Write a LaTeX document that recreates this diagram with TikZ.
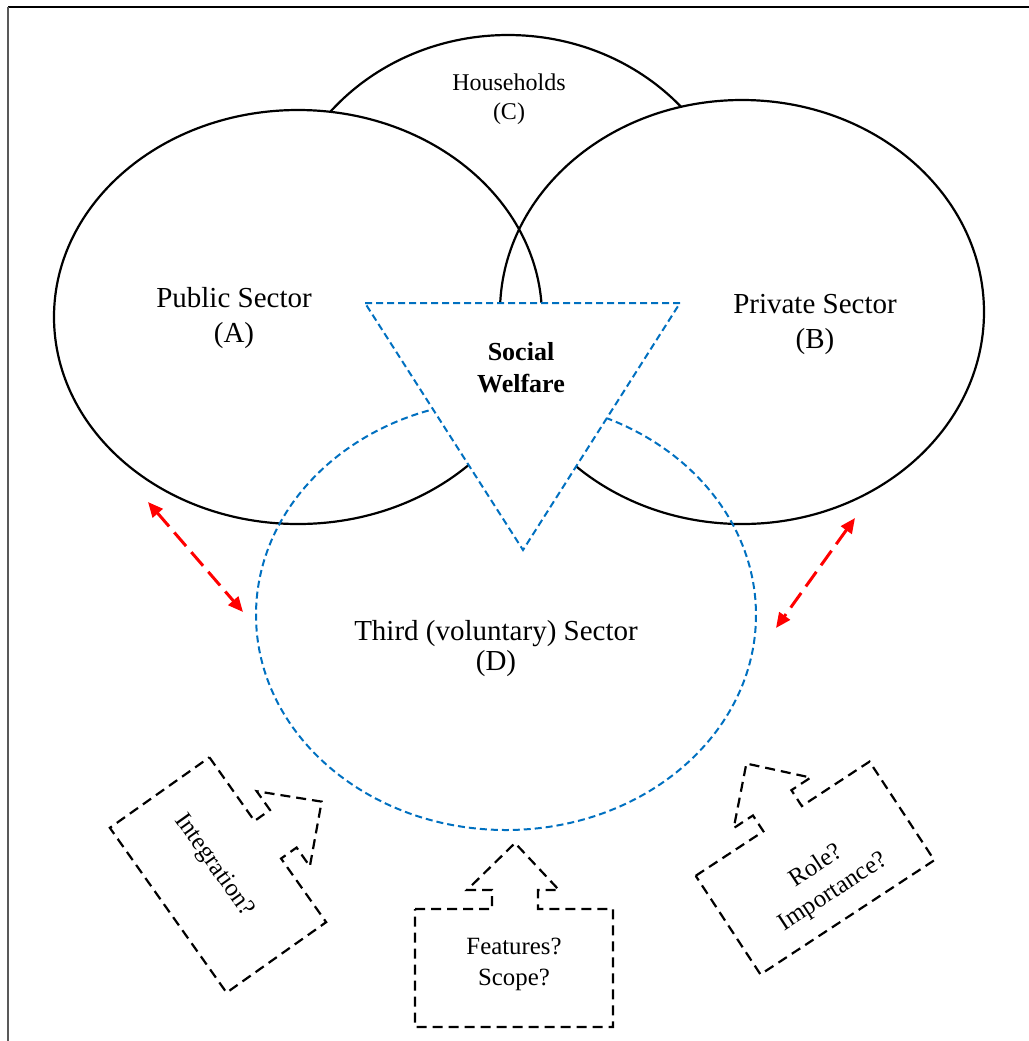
\documentclass[tikz,border=0pt]{standalone}
\usepackage{fontspec}
\setmainfont{Liberation Serif}
\usetikzlibrary{arrows.meta}
\definecolor{wordblue}{RGB}{0,112,192}

\begin{document}
\begin{tikzpicture}[x=0.5pt, y=-0.5pt,
  sectorline/.style={draw=black, line width=1.1pt},
  thirdline/.style={draw=wordblue, line width=1pt, dash pattern=on 3.5pt off 2pt},
  linkarrow/.style={draw=red, line width=1.5pt, dash pattern=on 9pt off 4pt, {Triangle[length=7.5pt,width=6.5pt]}-{Triangle[length=7.5pt,width=6.5pt]}},
  calloutline/.style={draw=black, line width=1.1pt, dash pattern=on 5pt off 3pt},
  sectortext/.style={align=center, font=\fontsize{14.5}{17.5}\selectfont},
  questiontext/.style={align=center, font=\fontsize{12.4}{15.5}\selectfont}]
\useasboundingbox (0,0) rectangle (1029,1041);

% the three overlapping sectors
\draw[sectorline, fill=white] (508,250) ellipse [x radius=232, y radius=215];
\fill[white] (298,317) ellipse [x radius=244, y radius=207];
\fill[white] (742,312) ellipse [x radius=242, y radius=212];
\draw[sectorline] (298,317) ellipse [x radius=244, y radius=207];
\draw[sectorline] (742,312) ellipse [x radius=242, y radius=212];

% third sector and social welfare
\draw[thirdline] (506,615) ellipse [x radius=250, y radius=215];
\draw[thirdline, fill=white] (365,303) -- (680,303) -- (523,550) -- cycle;

\node[font=\fontsize{12}{14.5}\selectfont, align=center] (households) at (509,99) {Households\\(C)};
\node[sectortext] (public) at (234,318) {Public Sector\\(A)};
\node[sectortext] (private) at (815,324) {Private Sector\\(B)};
\node[font=\bfseries\fontsize{13}{16}\selectfont, align=center] (welfare) at (521,368) {Social\\Welfare};
\node[align=center, font=\fontsize{14.5}{15}\selectfont] (third) at (496,649) {Third (voluntary) Sector\\(D)};

% links to the third sector
\coordinate (publicTip) at (148,502);
\coordinate (thirdTipL) at (243,612);
\coordinate (privateTip) at (855,518);
\coordinate (thirdTipR) at (776,628);
\draw[linkarrow] (publicTip) -- (thirdTipL);
\draw[linkarrow] (privateTip) -- (thirdTipR);

% question callouts
\begin{scope}[shift={(218,875)}, rotate=-54.7]
\draw[calloutline] (-101,-61) -- (-23,-61) -- (-23,-80) -- (-46,-80) -- (0,-127) -- (46,-80) -- (23,-80) -- (23,-61) -- (101,-61) -- (101,61) -- (-101,61) -- cycle;
\node[questiontext, rotate=-54.7] (integration) at (-10,-2) {Integration?};
\end{scope}
\begin{scope}[shift={(514,968)}]
\draw[calloutline] (-99,-59) -- (-22,-59) -- (-22,-78) -- (-47,-78) -- (1,-125) -- (45,-78) -- (24,-78) -- (24,-59) -- (99,-59) -- (99,59) -- (-99,59) -- cycle;
\node[questiontext] (features) at (0,-4) {Features?\\Scope?};
\end{scope}
\begin{scope}[shift={(815,868)}, rotate=33.3]
\draw[calloutline] (-104,-59) -- (-23,-59) -- (-23,-78) -- (-46,-78) -- (0,-125) -- (46,-78) -- (23,-78) -- (23,-59) -- (104,-59) -- (104,59) -- (-104,59) -- cycle;
\node[questiontext, rotate=33.3] (role) at (2,15) {Role?\\Importance?};
\end{scope}

% frame
\draw[black, line width=0.75pt] (8,7) -- (1029,7);
\draw[black!65, line width=1pt] (8,7) -- (8,1041);
\end{tikzpicture}
\end{document}
